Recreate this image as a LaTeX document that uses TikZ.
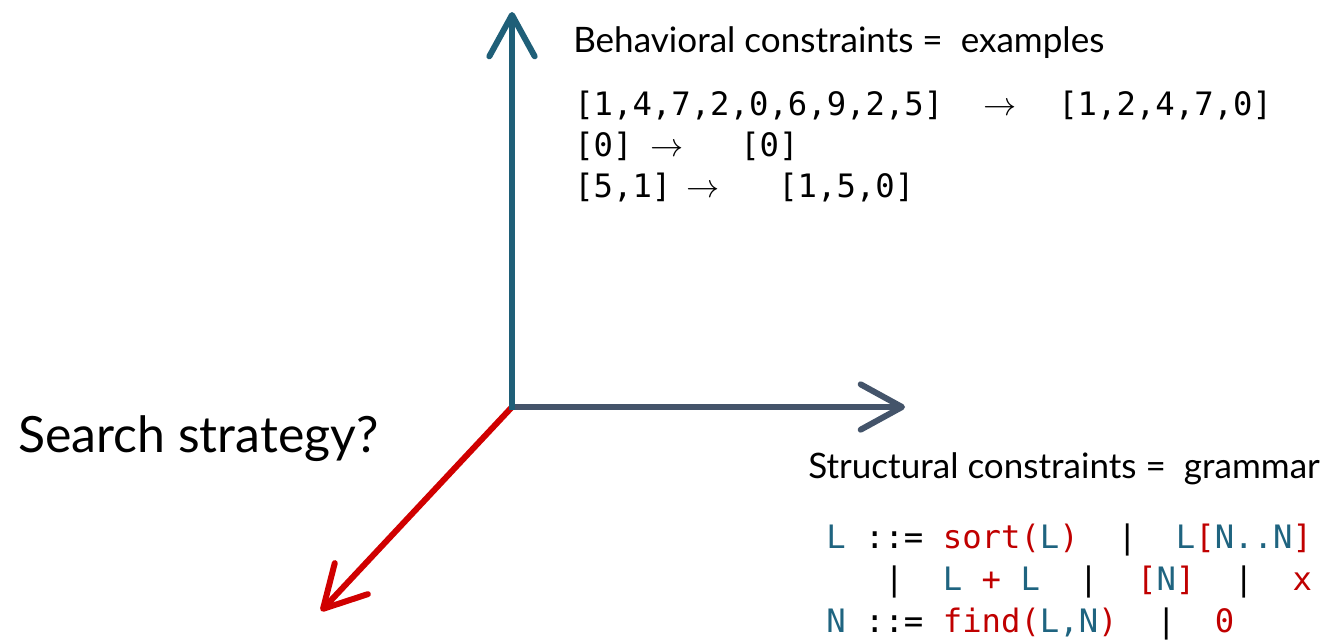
\documentclass[tikz,border=0pt]{standalone}
\usepackage{fontspec}
\setmainfont{Lato}
\setmonofont{DejaVu Sans Mono}
\usetikzlibrary{arrows.meta}
\definecolor{axteal}{HTML}{1F5F78}
\definecolor{axslate}{HTML}{44546A}
\definecolor{axred}{HTML}{D00000}
\definecolor{gteal}{HTML}{1F6480}
\definecolor{gred}{HTML}{C00000}
\newcommand\Tl[1]{\textcolor{gteal}{#1}}
\newcommand\Rd[1]{\textcolor{gred}{#1}}
\tikzset{
  axis/.style={line width=4.5pt, -{Straight Barb[length=31pt,width=34pt,line cap=round,round]}},
  lbl/.style={inner sep=0pt, anchor=base west, font=\fontsize{26.3}{31}\selectfont},
  code/.style={inner sep=0pt, anchor=base west, font=\ttfamily\fontsize{24.2}{28}\selectfont},
  arr/.style={inner sep=0pt, anchor=base west, font=\fontsize{24}{28}\selectfont},
  big/.style={inner sep=0pt, anchor=base west, font=\fontsize{37.5}{45}\selectfont}
}
\begin{document}
\begin{tikzpicture}[x=0.75pt,y=-0.75pt]
\useasboundingbox (0,0) rectangle (1334,639);
\coordinate (O) at (512,407);
\coordinate (Ob) at (512,410);
\coordinate (Y) at (512,12);
\coordinate (X) at (905,407);
\coordinate (Z) at (321,611);
\draw[axis, axred] (O) -- (Z);
\draw[axis, axslate] (O) -- (X);
\draw[axis, axteal] (Ob) -- (Y);

\node[lbl] (beh) at (573,52) {Behavioral constraints =~ examples};
\node[code] (e1a) at (574,115) {[1,4,7,2,0,6,9,2,5]};
\node[arr] (e1r) at (983,115) {$\rightarrow$};
\node[code] (e1b) at (1058,115) {[1,2,4,7,0]};
\node[code] (e2a) at (574,156) {[0]};
\node[arr] (e2r) at (650,156) {$\rightarrow$};
\node[code] (e2b) at (740,156) {[0]};
\node[code] (e3a) at (574,197) {[5,1]};
\node[arr] (e3r) at (686,197) {$\rightarrow$};
\node[code] (e3b) at (778,197) {[1,5,0]};

\node[big] (ss) at (18,452) {Search strategy?};

\node[lbl] (str) at (808,478) {Structural constraints =~ grammar};
\node[code] (g1) at (826,548) {\Tl{L}~::=~\Rd{sort(}\Tl{L}\Rd{)}~~|~~\Tl{L}\Rd{[}\Tl{N..N}\Rd{]}};
\node[code] (g2) at (826,590) {~~~|~~\Tl{L}~\Rd{+}~\Tl{L}~~|~~\Rd{[}\Tl{N}\Rd{]}~~|~~\Rd{x}};
\node[code] (g3) at (826,632) {\Tl{N}~::=~\Rd{find(}\Tl{L,N}\Rd{)}~~|~~\Rd{0}};
\end{tikzpicture}
\end{document}
